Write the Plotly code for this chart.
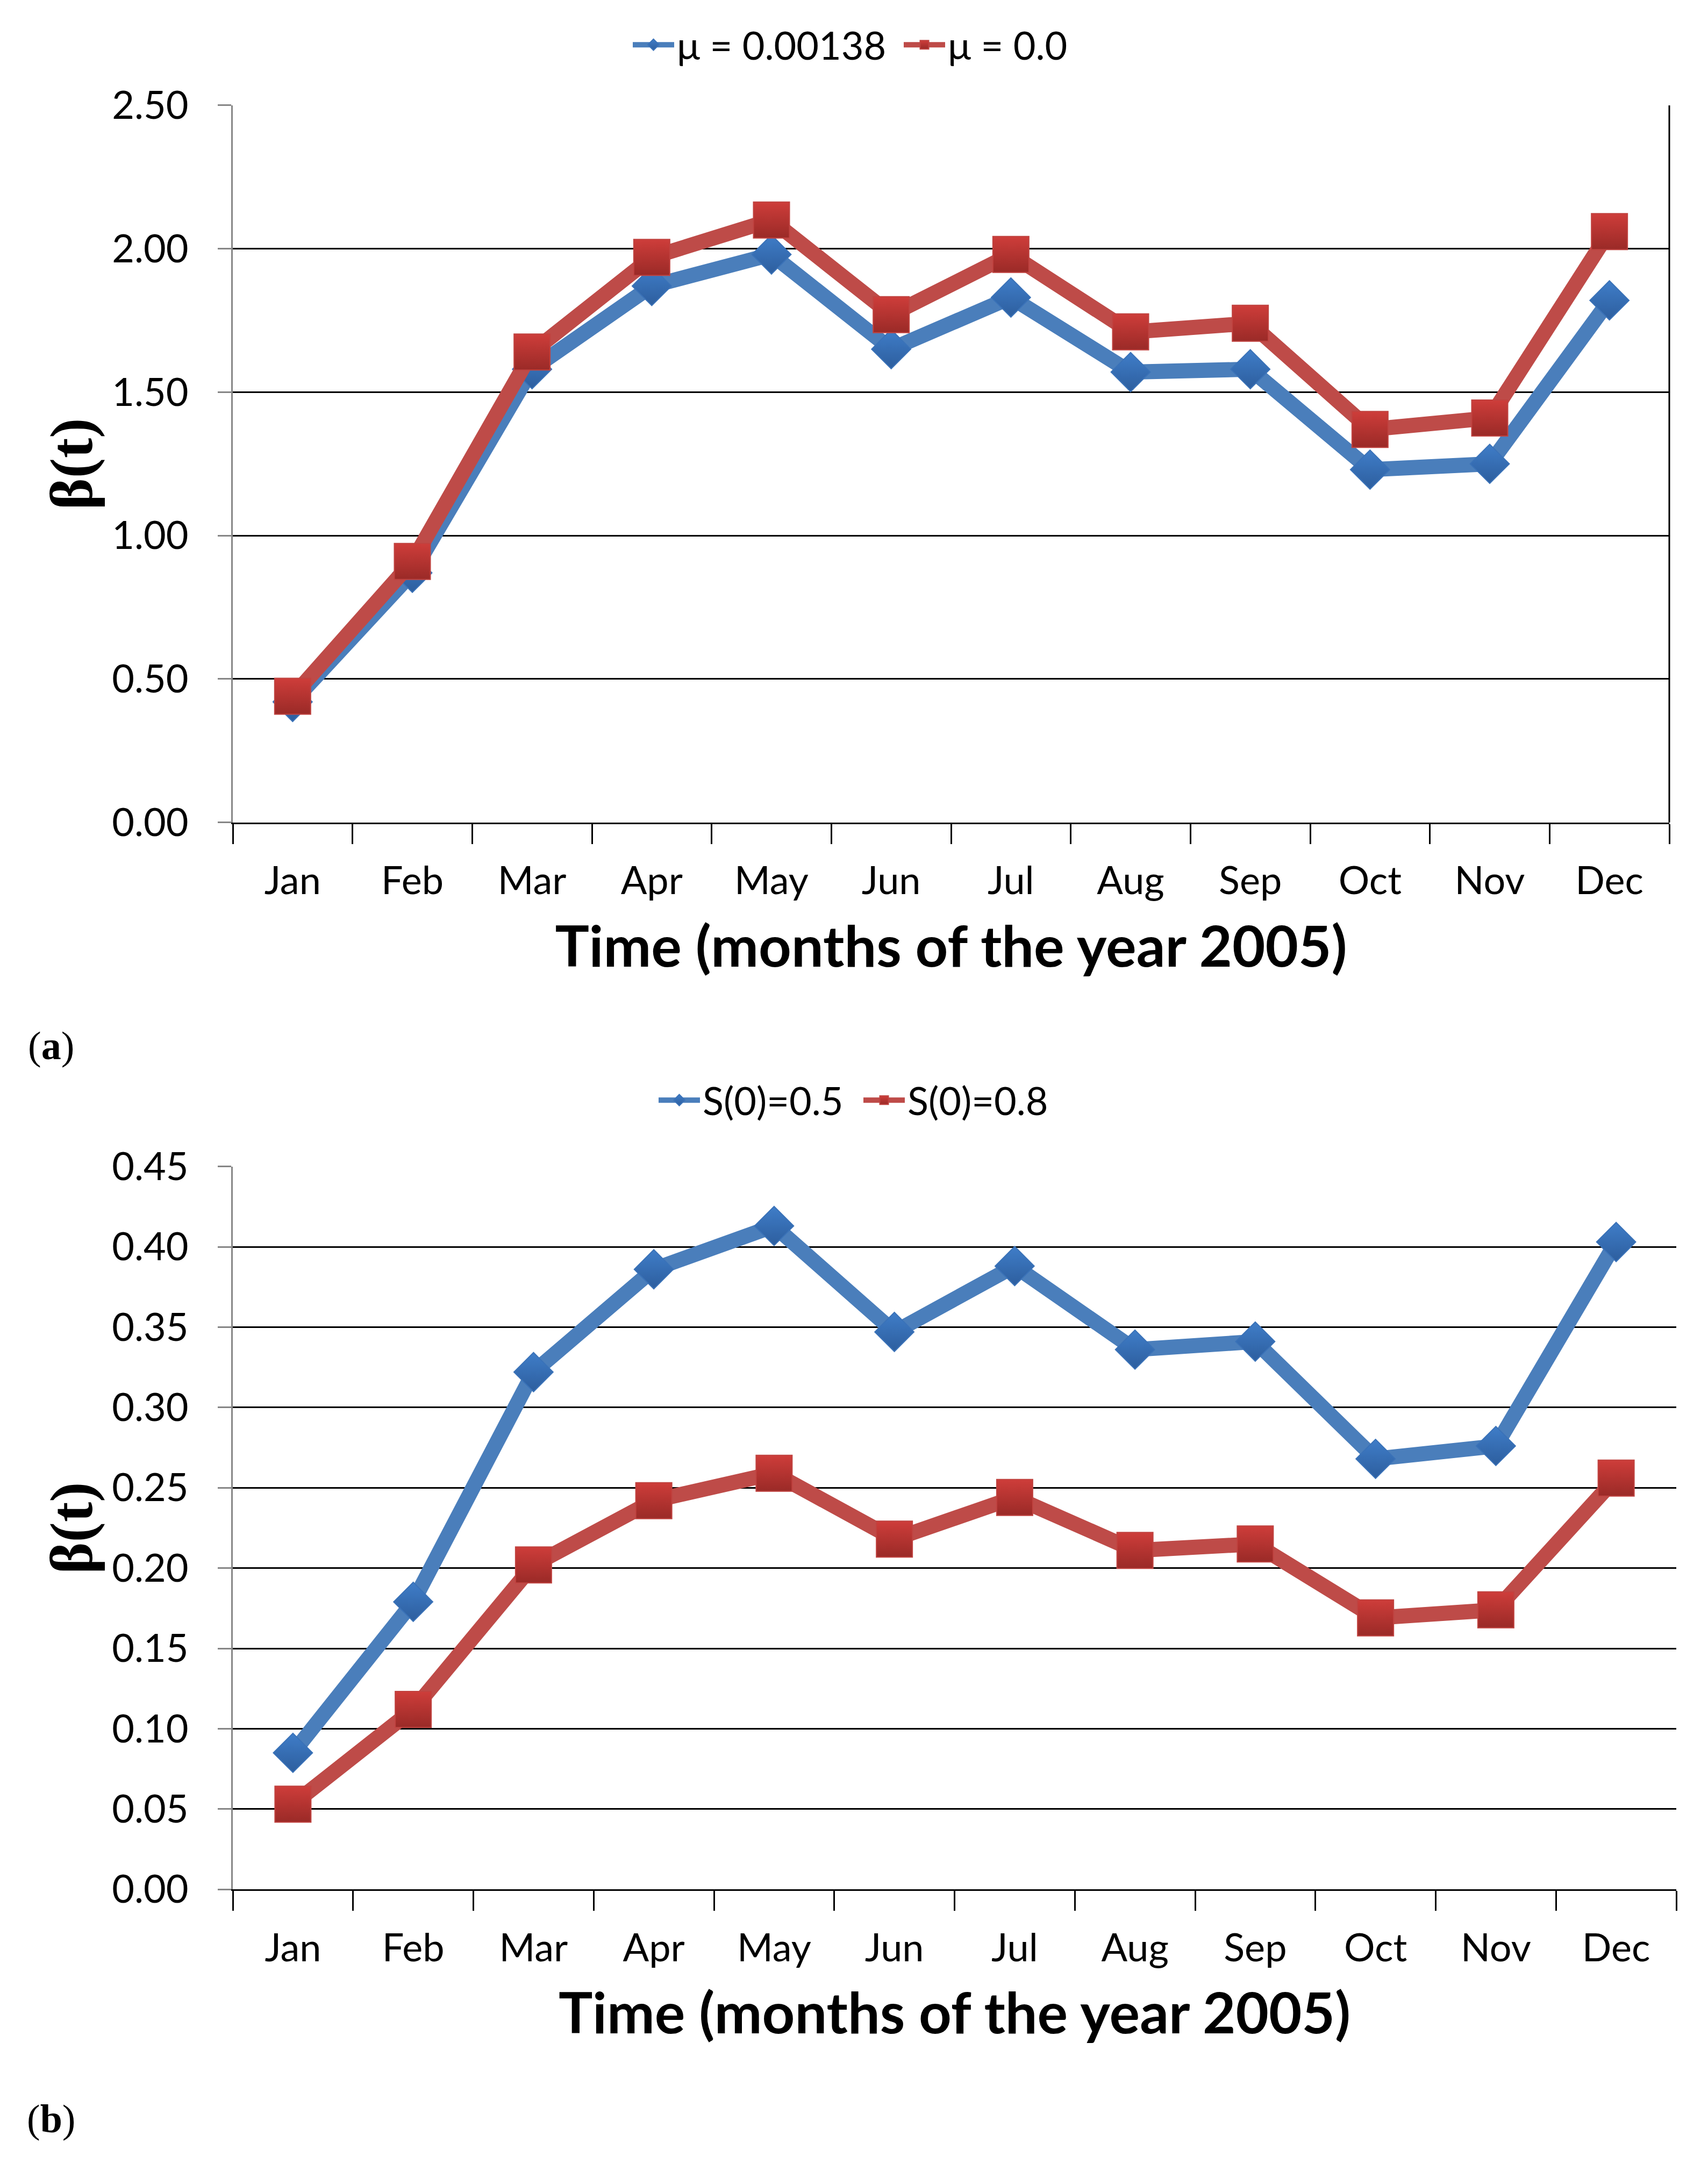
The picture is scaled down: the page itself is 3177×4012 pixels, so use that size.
import plotly.graph_objects as go

months = ["Jan", "Feb", "Mar", "Apr", "May", "Jun", "Jul", "Aug", "Sep", "Oct", "Nov", "Dec"]

# panel (a)
beta_mu_00138 = [0.42, 0.87, 1.58, 1.87, 1.98, 1.65, 1.83, 1.57, 1.58, 1.23, 1.25, 1.82]
beta_mu_0 = [0.44, 0.91, 1.64, 1.97, 2.10, 1.77, 1.98, 1.71, 1.74, 1.37, 1.41, 2.06]
# panel (b)
beta_s05 = [0.085, 0.179, 0.322, 0.386, 0.413, 0.347, 0.388, 0.336, 0.341, 0.268, 0.276, 0.403]
beta_s08 = [0.053, 0.112, 0.202, 0.242, 0.259, 0.218, 0.244, 0.211, 0.215, 0.169, 0.174, 0.256]

names_a = ["\u03bc = 0.00138", "\u03bc = 0.0"]
names_b = ["S(0)=0.5", "S(0)=0.8"]

W, H = 3177, 4012
BLUE_LINE = "#4A7EBB"
RED_LINE = "#BE4B48"
TICK_FONT = dict(family="Lato", size=72, color="black")
TITLE_FONT = dict(family="Lato", size=106, color="black", weight="bold")
YT_FONT = dict(family="Liberation Serif", size=112, color="black", weight="bold")

def blue_trace(y, name, xa, ya, leg):
    return go.Scatter(
        x=months, y=y, name=name, mode="lines+markers", xaxis=xa, yaxis=ya, legend=leg,
        line=dict(color=BLUE_LINE, width=28),
        marker=dict(symbol="diamond", size=56, color="#3F7DC8",
                    gradient=dict(type="vertical", color="#2D5E9E"),
                    line=dict(color="#3A72B8", width=2)),
    )

def red_trace(y, name, xa, ya, leg):
    return go.Scatter(
        x=months, y=y, name=name, mode="lines+markers", xaxis=xa, yaxis=ya, legend=leg,
        line=dict(color=RED_LINE, width=28),
        marker=dict(symbol="square", size=67, color="#CE3D3A",
                    gradient=dict(type="vertical", color="#9A2A27"),
                    line=dict(color="#C04340", width=2)),
    )

fig = go.Figure()
fig.add_trace(blue_trace(beta_mu_00138, names_a[0], "x", "y", "legend"))
fig.add_trace(red_trace(beta_mu_0, names_a[1], "x", "y", "legend"))
fig.add_trace(blue_trace(beta_s05, names_b[0], "x2", "y2", "legend2"))
fig.add_trace(red_trace(beta_s08, names_b[1], "x2", "y2", "legend2"))

def xaxis(domain, anchor):
    return dict(
        domain=domain, anchor=anchor, type="category", range=[-0.5, 11.5],
        tickson="boundaries", ticks="outside", ticklen=37, tickwidth=3, tickcolor="black",
        showline=True, linecolor="black", linewidth=3, showgrid=False,
        tickfont=TICK_FONT, ticklabelstandoff=44,
        title=dict(text="Time (months of the year 2005)", font=TITLE_FONT, standoff=47),
        fixedrange=True,
    )

def yaxis(domain, anchor, rng, dtick):
    return dict(
        domain=domain, anchor=anchor, range=rng, dtick=dtick, tick0=0, tickformat=".2f",
        ticks="outside", ticklen=25, tickwidth=3, tickcolor="#868686",
        showline=True, linecolor="#868686", linewidth=3,
        showgrid=True, gridcolor="black", gridwidth=3, zeroline=False,
        tickfont=TICK_FONT, ticklabelstandoff=40,
        title=dict(text="\u03b2(t)", font=YT_FONT, standoff=0),
        fixedrange=True,
    )

LEG_COMMON = dict(orientation="h", xanchor="left", yanchor="middle", font=TICK_FONT,
                  itemwidth=77, bgcolor="rgba(0,0,0,0)", tracegroupgap=0,
                  entrywidthmode="pixels")

fig.update_layout(
    width=W, height=H,
    margin=dict(l=0, r=0, t=0, b=0),
    paper_bgcolor="white", plot_bgcolor="white",
    showlegend=True,
    xaxis=xaxis([425 / W, 3097 / W], "y"),
    yaxis=yaxis([1 - 1508 / H, 1 - 145 / H], "x", [0, 2.5], 0.5),
    xaxis2=xaxis([425 / W, 3110 / W], "y2"),
    yaxis2=yaxis([1 - 3536 / H, 1 - 2162 / H], "x2", [0, 0.45], 0.05),
    legend=dict(LEG_COMMON, x=1164 / W, y=1 - 30 / H, entrywidth=412),
    legend2=dict(LEG_COMMON, x=1212 / W, y=1 - 2036 / H, entrywidth=289),
    shapes=[dict(type="line", xref="x domain", yref="y domain", x0=1, x1=1, y0=0, y1=1,
                 line=dict(color="black", width=3))],
    annotations=[
        dict(text="(<b>a</b>)", xref="paper", yref="paper", x=87 / W, y=1 - 1932 / H,
             xanchor="center", yanchor="middle", showarrow=False,
             font=dict(family="Liberation Serif", size=74, color="black")),
        dict(text="(<b>b</b>)", xref="paper", yref="paper", x=87 / W, y=1 - 3972 / H,
             xanchor="center", yanchor="middle", showarrow=False,
             font=dict(family="Liberation Serif", size=74, color="black")),
    ],
)

fig.write_html("out.html")
